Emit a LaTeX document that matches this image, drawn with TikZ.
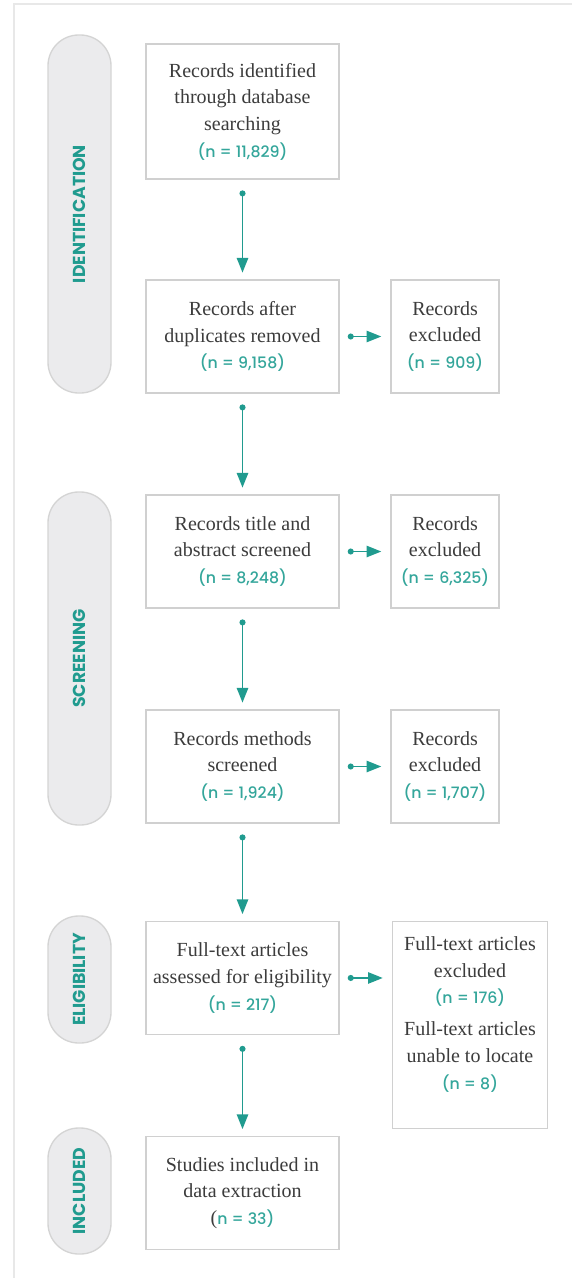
\documentclass[tikz,border=0pt]{standalone}
\usepackage{fontspec}
\setmainfont{Liberation Serif}
\newfontfamily\numfont{Poppins}[UprightFont={* Medium}]
\newfontfamily\phasefont{Poppins}
\usepackage{tikz}
\usetikzlibrary{shapes, arrows.meta, positioning}

\definecolor{flowteal}{RGB}{32,155,143}
\definecolor{numteal}{RGB}{52,166,155}
\definecolor{boxgray}{RGB}{208,208,208}
\definecolor{pillfill}{RGB}{235,235,237}
\definecolor{pillline}{RGB}{212,212,212}
\definecolor{framegray}{RGB}{232,232,232}
\definecolor{textgray}{RGB}{60,60,60}

\newcommand{\numtxt}[1]{{\numfont\fontsize{11.8}{20}\selectfont\color{numteal}#1}}

\begin{document}
\begin{tikzpicture}[x=0.75pt, y=-0.75pt,
    stagebox/.style={rectangle, draw=boxgray, line width=1.1pt, fill=white, align=center,
        inner sep=0pt, text=textgray, font=\fontsize{15}{20}\selectfont,
        minimum width=144.75pt, minimum height=84.75pt},
    outbox/.style={stagebox, minimum width=81pt},
    phase/.style={rectangle, rounded corners=23pt, draw=pillline, fill=pillfill, line width=1pt,
        rotate=90, minimum height=47.25pt, text=flowteal, font=\phasefont\bfseries\fontsize{13}{14}\selectfont},
    flow/.style={draw=flowteal, line width=1.2pt, {Circle[length=4.5pt]}-{Triangle[length=11pt, width=8.5pt]},
        shorten <=8pt, shorten >=5pt},
    sideflow/.style={flow, shorten <=6pt, shorten >=6.75pt}]

        \useasboundingbox (0,0) rectangle (572,1278);
        \draw[framegray, line width=1.5pt] (14,1278) -- (14,4) -- (572,4);

        % Phases
        \node[phase, minimum width=268.5pt] (ident) at (79.5,214) {IDENTIFICATION};
        \node[phase, minimum width=249.75pt] (screen) at (79.5,658.5) {SCREENING};
        \node[phase, minimum width=95.25pt] (elig) at (79.5,979.5) {ELIGIBILITY};
        \node[phase, minimum width=94.5pt] (incl) at (79.5,1191) {INCLUDED};

        % Main column
        \node[stagebox, minimum height=101.25pt] (found) at (242.5,111.5) {Records identified\\through database\\searching\\\numtxt{(n = 11,829)}};
        \node[stagebox, below of=found, node distance=168.75pt] (dedup) {Records after\\duplicates removed\\\numtxt{(n = 9,158)}};
        \node[stagebox, below of=dedup, node distance=161.25pt] (title) {Records title and\\abstract screened\\\numtxt{(n = 8,248)}};
        \node[stagebox, below of=title, node distance=161.25pt] (methods) {Records methods\\screened\\\numtxt{(n = 1,924)}};
        \node[stagebox, below of=methods, node distance=158.6pt] (fulltext) {Full-text articles\\assessed for eligibility\\\numtxt{(n = 217)}};
        \node[stagebox, below of=fulltext, node distance=161.25pt] (studies) {Studies included in\\data extraction\\{\color{textgray}(}\numtxt{n = 33)}};

        % Exclusions
        \node[outbox, right of=dedup, node distance=151.9pt] (exdup) {Records\\excluded\\\numtxt{(n = 909)}};
        \node[outbox, right of=title, node distance=151.9pt] (extitle) {Records\\excluded\\\numtxt{(n = 6,325)}};
        \node[outbox, right of=methods, node distance=151.9pt] (exmethods) {Records\\excluded\\\numtxt{(n = 1,707)}};
        \node[stagebox, anchor=north west, minimum width=116.25pt, minimum height=155.25pt,
            text depth=18pt] (exfull) at ([xshift=39pt]fulltext.north east)
            {Full-text articles\\excluded\\\numtxt{(n = 176)}\\[4pt]Full-text articles\\unable to locate\\\numtxt{(n = 8)}};

        % Connections
        \draw[flow] (found) -- (dedup);
        \draw[flow] (dedup) -- (title);
        \draw[flow] (title) -- (methods);
        \draw[flow] (methods) -- (fulltext);
        \draw[flow] (fulltext) -- (studies);
        \draw[sideflow] (dedup) -- (exdup);
        \draw[sideflow] (title) -- (extitle);
        \draw[sideflow] (methods) -- (exmethods);
        \draw[sideflow] (fulltext) -- (fulltext -| exfull.west);
    \end{tikzpicture}
\end{document}
